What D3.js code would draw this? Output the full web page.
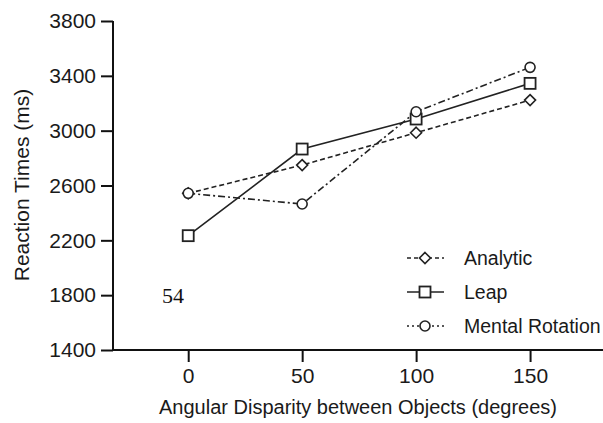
<!DOCTYPE html>
<html>
<head>
<meta charset="utf-8">
<script src="https://cdn.jsdelivr.net/npm/d3@7"></script>
<style>
  body { margin: 0; background: #fff; }
</style>
</head>
<body>
<div id="chart"></div>
<script>
// данные графика
const angles = [0, 50, 100, 150];
const analytic = [2543, 2749, 2985, 3223];
const leap = [2234, 2866, 3085, 3345];
const mental = [2543, 2465, 3138, 3462];
const yTicks = [1400, 1800, 2200, 2600, 3000, 3400, 3800];
const seriesNames = ['Analytic', 'Leap', 'Mental Rotation'];

const width = 603, height = 423;
const sans = '"Liberation Sans", Arial, sans-serif';
const svg = d3.select('#chart').append('svg')
    .attr('width', width).attr('height', height)
    .style('font-family', sans);

const x = d3.scaleLinear().domain([-33, 182]).range([113, 603]);
const y = d3.scaleLinear().domain([1400, 3800]).range([350, 21]);

// оси
const yAxis = svg.append('g').attr('transform', 'translate(113,0)')
    .call(d3.axisLeft(y).tickValues(yTicks).tickFormat(d3.format('d')).tickSize(12).tickPadding(5));
const xAxis = svg.append('g').attr('transform', 'translate(0,350)')
    .call(d3.axisBottom(x).tickValues(angles).tickFormat(d3.format('d')).tickSize(12).tickPadding(6));
[yAxis, xAxis].forEach(a => {
    a.attr('font-family', sans).attr('font-size', 21);
    a.select('.domain').attr('stroke', '#111').attr('stroke-width', 2);
    a.selectAll('.tick line').attr('stroke', '#111').attr('stroke-width', 2);
    a.selectAll('.tick text').attr('fill', '#1a1a1a');
});
// без концевых засечек
xAxis.select('.domain').attr('d', `M${x.range()[0]},0H${x.range()[1]}`);
yAxis.select('.domain').attr('d', `M0,${y.range()[0]}V${y.range()[1]}`);

svg.append('text')
    .attr('transform', 'translate(29,185) rotate(-90)')
    .attr('text-anchor', 'middle')
    .attr('font-size', 21)
    .attr('fill', '#1a1a1a')
    .text('Reaction Times (ms)');

svg.append('text')
    .attr('x', 358).attr('y', 414)
    .attr('text-anchor', 'middle')
    .attr('font-size', 20)
    .attr('fill', '#1a1a1a')
    .text('Angular Disparity between Objects (degrees)');

// линии и маркеры
const series = [
    { name: seriesNames[0], values: analytic, dash: '5,3', marker: 'diamond' },
    { name: seriesNames[1], values: leap, dash: null, marker: 'square' },
    { name: seriesNames[2], values: mental, dash: '7,3,2,3', marker: 'circle' }
];

const line = d3.line().x((d, i) => x(angles[i])).y(d => y(d));

function drawMarker(g, type, cx, cy) {
    if (type === 'diamond') {
        g.append('path')
            .attr('d', `M${cx},${cy - 5.5}L${cx + 5.5},${cy}L${cx},${cy + 5.5}L${cx - 5.5},${cy}Z`)
            .attr('fill', '#fff').attr('stroke', '#222').attr('stroke-width', 1.6);
    } else if (type === 'square') {
        g.append('rect')
            .attr('x', cx - 5.5).attr('y', cy - 5.5).attr('width', 11).attr('height', 11)
            .attr('fill', '#fff').attr('stroke', '#222').attr('stroke-width', 1.8);
    } else {
        g.append('circle')
            .attr('cx', cx).attr('cy', cy).attr('r', 5)
            .attr('fill', '#fff').attr('stroke', '#222').attr('stroke-width', 1.6);
    }
}

const plot = svg.append('g');
series.forEach(s => {
    plot.append('path')
        .datum(s.values)
        .attr('d', line)
        .attr('fill', 'none')
        .attr('stroke', '#222')
        .attr('stroke-width', 1.6)
        .attr('stroke-dasharray', s.dash);
});
series.forEach(s => {
    s.values.forEach((v, i) => drawMarker(plot, s.marker, x(angles[i]), y(v)));
});

// легенда
const legend = svg.append('g');
series.forEach((s, i) => {
    const ly = 258 + i * 34;
    legend.append('line')
        .attr('x1', 407).attr('x2', 444).attr('y1', ly).attr('y2', ly)
        .attr('stroke', '#222').attr('stroke-width', 1.4)
        .attr('stroke-dasharray', i === 0 ? '4,3' : (i === 2 ? '2,3' : null));
    drawMarker(legend, s.marker, 425, ly);
    legend.append('text')
        .attr('x', 464).attr('y', ly + 7)
        .attr('font-size', 19.5)
        .attr('fill', '#1a1a1a')
        .text(s.name);
});

svg.append('text')
    .attr('x', 162).attr('y', 303)
    .style('font-family', '"Liberation Serif", "Times New Roman", serif')
    .attr('font-size', 22)
    .attr('fill', '#111')
    .text('54');
</script>
</body>
</html>
